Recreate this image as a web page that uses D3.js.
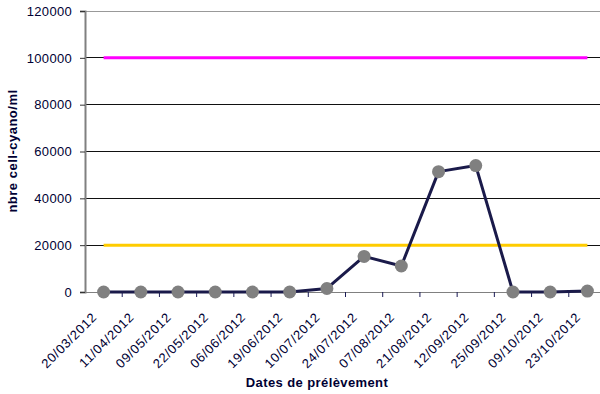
<!DOCTYPE html>
<html><head><meta charset="utf-8">
<script src="https://cdn.jsdelivr.net/npm/d3@7"></script>
<style>body{margin:0;background:#fff;} svg{display:block;font-family:"Liberation Sans",Arial,sans-serif;}</style>
</head><body><svg id="c" width="600" height="394"></svg>
<script>
const dates = ["20/03/2012","11/04/2012","09/05/2012","22/05/2012","06/06/2012","19/06/2012","10/07/2012","24/07/2012","07/08/2012","21/08/2012","12/09/2012","25/09/2012","09/10/2012","23/10/2012"];
const counts = [0,0,0,0,0,0,1500,15200,11100,51400,54000,0,0,400];
const thresholdHigh = 100000;
const thresholdLow = 20000;
const yTicks = [0,20000,40000,60000,80000,100000,120000];

const svg = d3.select("#c");
const mLeft = 85, mRight = 606, mTop = 11, mBottom = 292;
const x = d3.scaleBand().domain(dates).range([mLeft, mRight]);
const y = d3.scaleLinear().domain([0,120000]).range([mBottom, mTop]);
const cx = d => x(d) + x.bandwidth()/2;
const textCol = "#000033";

// gridlines
svg.append("g").selectAll("line").data(yTicks.filter(v=>v>0)).join("line")
  .attr("x1", mLeft).attr("x2", 600).attr("y1", d=>y(d)).attr("y2", d=>y(d))
  .attr("stroke", d=> d===120000 ? "#999" : "#111").attr("stroke-width", 1).attr("shape-rendering","crispEdges");

// y axis
const yAxis = d3.axisLeft(y).tickValues(yTicks).tickSize(5).tickFormat(d3.format("d"));
const gy = svg.append("g").attr("transform", `translate(${mLeft},0)`).call(yAxis);
gy.select(".domain").attr("stroke", "#808080").attr("stroke-width", 2);
gy.selectAll(".tick line").attr("stroke", "#333");
gy.selectAll("text").attr("fill", textCol).style("font-size","13px").style("letter-spacing","0.3px").attr("x", -13);

// x axis
const xAxis = d3.axisBottom(x).tickSize(0).tickSizeOuter(0);
const gx = svg.append("g").attr("transform", `translate(0,${mBottom})`).call(xAxis);
gx.select(".domain").attr("stroke", "#808080").attr("stroke-width", 1);
gx.selectAll(".tick text").attr("fill", textCol).style("font-size","13px").style("letter-spacing","0.7px")
  .attr("text-anchor","end").attr("dy", 0).attr("y", 0)
  .attr("transform", "translate(-6,26) rotate(-45)");
// tick marks between categories
svg.append("g").selectAll("line").data(dates.slice(1)).join("line")
  .attr("x1", d=>x(d)).attr("x2", d=>x(d)).attr("y1", mBottom).attr("y2", mBottom+5)
  .attr("stroke", "#1a1a55").attr("stroke-width", 1);

// threshold lines
const firstX = cx(dates[0]), lastX = cx(dates[dates.length-1]);
svg.append("line").attr("x1", firstX).attr("x2", lastX).attr("y1", y(thresholdHigh)).attr("y2", y(thresholdHigh))
  .attr("stroke", "#ff00ff").attr("stroke-width", 3);
svg.append("line").attr("x1", firstX).attr("x2", lastX).attr("y1", y(thresholdLow)).attr("y2", y(thresholdLow))
  .attr("stroke", "#ffcc00").attr("stroke-width", 3);

// data line
const line = d3.line().x((d,i)=>cx(dates[i])).y(d=>y(d));
svg.append("path").datum(counts).attr("d", line).attr("fill","none")
  .attr("stroke", "#1a1a4a").attr("stroke-width", 3).attr("stroke-linejoin","round");
svg.append("g").selectAll("circle").data(counts).join("circle")
  .attr("cx", (d,i)=>cx(dates[i])).attr("cy", d=>y(d)).attr("r", 6.5).attr("fill", "#808080");

// titles
svg.append("text").attr("x", 317).attr("y", 387).attr("text-anchor","middle")
  .attr("fill", textCol).style("font-size","13px").style("letter-spacing","0.4px").style("font-weight","bold").text("Dates de prélèvement");
svg.append("text").attr("transform", "translate(17,151) rotate(-90)").attr("text-anchor","middle")
  .attr("fill", textCol).style("font-size","13px").style("letter-spacing","0.5px").style("font-weight","bold").text("nbre cell-cyano/ml");
</script></body></html>
